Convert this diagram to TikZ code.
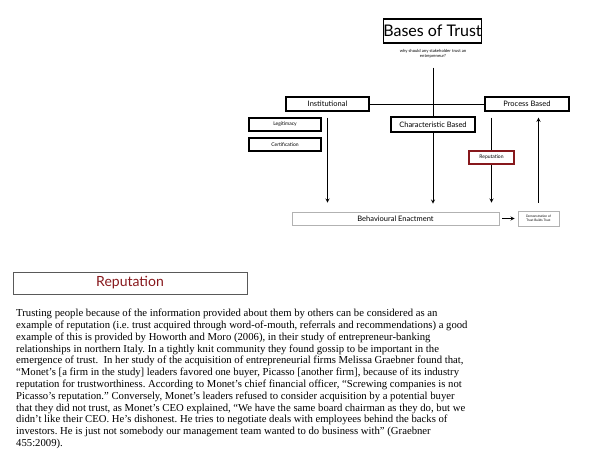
\documentclass[tikz,border=0pt]{standalone}
\usepackage{fontspec}
\setmainfont{Liberation Serif}
\newfontfamily\gill{Lato}
\usetikzlibrary{backgrounds}
\definecolor{repred}{RGB}{135,24,28}
\frenchspacing
\tikzset{
	basebox/.style = {draw, line width=1.2pt, fill=white, inner sep=0pt, font=\gill\fontsize{7.5}{8}\selectfont},
	subbox/.style = {basebox, font=\gill\fontsize{5}{6}\selectfont},
	thinbox/.style = {draw=gray!60, line width=0.6pt, fill=white, inner sep=0pt},
	link/.style = {line width=0.9pt}
}

\begin{document}
\begin{tikzpicture}[x=1pt, y=-1pt, >=stealth]
	\useasboundingbox (0,0) rectangle (600,461);
	\node[basebox, line width=1.3pt, minimum width=97pt, minimum height=24pt, font=\gill\fontsize{16}{18}\selectfont] (bases) at (432.5, 31) {Bases of Trust};
	\node[align=center, inner sep=0pt, font=\gill\fontsize{4.2}{5}\selectfont] (why) at (433, 54) {why should any stakeholder trust an\\entrepreneur?};
	\node[basebox, minimum width=83pt, minimum height=14pt] (inst) at (327.5, 104) {Institutional};
	\node[basebox, minimum width=84pt, minimum height=14pt] (proc) at (527, 104) {Process Based};
	\node[basebox, minimum width=84pt, minimum height=15pt] (char) at (433, 124.5) {Characteristic Based};
	\node[subbox, minimum width=72pt, minimum height=13pt] (legit) at (285, 124.5) {Legitimacy};
	\node[subbox, minimum width=72pt, minimum height=13pt] (cert) at (285, 144.5) {Certification};
	\node[subbox, draw=repred, minimum width=45pt, minimum height=13pt] (rep) at (491.5, 157.5) {Reputation};
	\node[thinbox, minimum width=207pt, minimum height=13pt, font=\gill\fontsize{7.5}{8}\selectfont] (behav) at (395.5, 218.5) {Behavioural Enactment};
	\node[thinbox, minimum width=41pt, minimum height=15pt, align=center, font=\gill\fontsize{3.2}{3.8}\selectfont] (demo) at (538.5, 218.5) {Demonstration of\\Trust Builds Trust};
	\begin{scope}[on background layer]
		\draw [link] (inst) -- (proc);
		\draw [link, ->, shorten <=9pt, shorten >=8pt] (why) -- (why |- behav.north);
		\draw [link, ->, shorten <=6pt, shorten >=9pt] (inst) -- (inst |- behav.north);
		\draw [link, ->, shorten <=6pt, shorten >=9pt] (rep |- proc.south) -- (rep |- behav.north);
		\draw [link, ->, shorten <=8pt, shorten >=6pt] (demo) -- (demo |- proc.south);
		\draw [link, ->, shorten <=3pt, shorten >=3pt] (behav) -- (demo);
	\end{scope}
	\node[draw=gray!70!black, line width=0.8pt, minimum width=234pt, minimum height=22pt, inner sep=0pt, text=repred, font=\gill\fontsize{14}{16}\selectfont] (head) at (130, 283) {Reputation};
	\node[anchor=north west, inner sep=0pt, align=left, font=\fontsize{10.7}{11.8}\selectfont] (body) at (16, 309) {%
		Trusting people because of the information provided about them by others can be considered as an\\
		example of reputation (i.e. trust acquired through word-of-mouth, referrals and recommendations) a good\\
		example of this is provided by Howorth and Moro (2006), in their study of entrepreneur-banking\\
		relationships in northern Italy. In a tightly knit community they found gossip to be important in the\\
		emergence of trust.\ \ In her study of the acquisition of entrepreneurial firms Melissa Graebner found that,\\
		“Monet’s [a firm in the study] leaders favored one buyer, Picasso [another firm], because of its industry\\
		reputation for trustworthiness. According to Monet’s chief financial officer, “Screwing companies is not\\
		Picasso’s reputation.” Conversely, Monet’s leaders refused to consider acquisition by a potential buyer\\
		that they did not trust, as Monet’s CEO explained, “We have the same board chairman as they do, but we\\
		didn’t like their CEO. He’s dishonest. He tries to negotiate deals with employees behind the backs of\\
		investors. He is just not somebody our management team wanted to do business with” (Graebner\\
		455:2009).};
\end{tikzpicture}
\end{document}
